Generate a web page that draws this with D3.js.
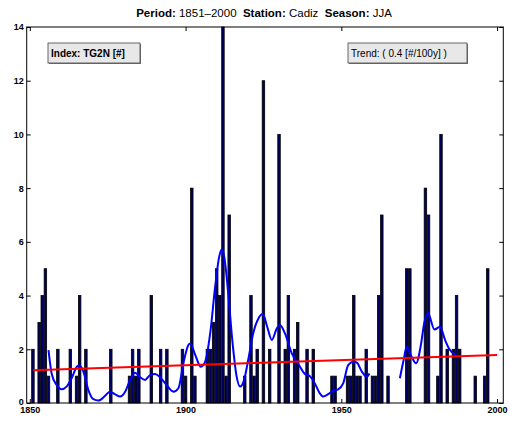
<!DOCTYPE html>
<html>
<head>
<meta charset="utf-8">
<script src="https://cdn.jsdelivr.net/npm/d3@7"></script>
<style>
  body { margin: 0; background: #fff; }
  svg { font-family: "Liberation Sans", Arial, sans-serif; }
  .axis text { font-size: 9px; font-weight: bold; fill: #000; }
  .axis line { stroke: #000; }
</style>
</head>
<body>
<svg id="chart" width="510" height="425"></svg>
<script>
// yearly counts (only years with a non-zero value)
const barYears = [1851, 1853, 1854, 1855, 1856, 1859, 1863, 1865, 1866, 1868,
  1876, 1882, 1883, 1884, 1885, 1889, 1892, 1894, 1899, 1900,
  1902, 1903, 1907, 1908, 1909, 1910, 1911, 1912, 1913, 1914,
  1919, 1921, 1922, 1923, 1925, 1927, 1930, 1932, 1933, 1935,
  1936, 1939, 1941, 1947, 1948, 1952, 1953, 1954, 1955, 1956,
  1958, 1960, 1961, 1962, 1963, 1965, 1971, 1972, 1977, 1978,
  1981, 1982, 1984, 1986, 1987, 1988, 1993, 1996, 1997];
const barValues = [2, 3, 4, 5, 1, 2, 2, 1, 4, 2,
  2, 1, 2, 1, 2, 4, 2, 2, 2, 1,
  8, 1, 2, 2, 3, 5, 4, 14, 1, 7,
  1, 4, 1, 2, 12, 2, 10, 2, 4, 2,
  3, 2, 2, 1, 1, 1, 1, 4, 1, 1,
  2, 1, 1, 4, 7, 1, 5, 5, 8, 7,
  1, 10, 2, 2, 4, 2, 1, 1, 5];

// smoothed curve, two pieces (gap in the 1960s)
const smoothYears1 = [1856.0, 1857.0, 1858.6, 1860.2, 1861.8, 1863.4, 1865.1, 1865.9, 1867.2, 1868.8,
  1870.4, 1872.0, 1874.1, 1875.7, 1877.3, 1879.0, 1880.6, 1882.2, 1883.8, 1885.4,
  1887.0, 1888.6, 1890.2, 1891.8, 1893.9, 1896.1, 1897.7, 1899.3, 1900.9, 1901.5,
  1903.1, 1904.9, 1906.3, 1907.9, 1909.5, 1910.8, 1911.6, 1912.4, 1913.7, 1915.1,
  1916.4, 1917.5, 1918.8, 1920.1, 1921.7, 1923.4, 1924.8, 1926.2, 1927.7, 1929.3,
  1930.3, 1931.9, 1934.1, 1936.2, 1938.3, 1939.9, 1941.5, 1943.1, 1944.2, 1945.8,
  1947.4, 1949.0, 1950.6, 1952.2, 1953.9, 1955.0, 1956.6, 1958.2, 1959.0];
const smoothValues1 = [1.97, 1.10, 0.67, 0.51, 0.61, 0.92, 1.35, 1.41, 1.17, 0.48,
  0.14, 0.09, 0.26, 0.42, 0.33, 0.24, 0.42, 0.86, 1.13, 0.96,
  0.86, 1.04, 1.08, 0.96, 0.67, 0.42, 0.55, 1.48, 2.16, 2.22,
  1.79, 1.35, 1.54, 2.59, 4.33, 5.45, 5.72, 5.45, 4.08, 2.22,
  0.98, 0.61, 0.86, 1.60, 2.59, 3.15, 3.31, 2.84, 2.35, 2.78,
  2.90, 2.59, 1.85, 1.45, 1.08, 1.00, 0.73, 0.36, 0.24, 0.33,
  0.46, 0.51, 0.73, 1.41, 1.54, 1.50, 1.17, 0.98, 1.10];
const smoothYears2 = [1968.8, 1970.0, 1971.0, 1972.3, 1974.0, 1975.6, 1976.6, 1977.8, 1979.9, 1981.7, 1983.3, 1984.7, 1986.6];
const smoothValues2 = [0.92, 1.60, 2.10, 1.79, 1.48, 2.20, 2.97, 3.35, 2.74, 2.84, 2.35, 2.00, 1.80];

// linear trend end points
const trendYears = [1851, 2000];
const trendValues = [1.22, 1.79];

const xTicks = [1850, 1900, 1950, 2000];
const yTicks = [0, 2, 4, 6, 8, 10, 12, 14];

const plotLeft = 26.7, plotRight = 503.3, plotTop = 27, plotBottom = 403;

const svg = d3.select("#chart");

const x = d3.scaleLinear().domain([1849, 2002]).range([plotLeft, plotRight]);
const y = d3.scaleLinear().domain([0, 14]).range([plotBottom, plotTop]);
const step = x(1) - x(0);

// bars
const bars = barYears.map((yr, i) => ({year: yr, value: barValues[i]}));
svg.append("g")
  .selectAll("rect")
  .data(bars)
  .join("rect")
  .attr("x", d => x(d.year) - step * 0.4)
  .attr("y", d => y(d.value))
  .attr("width", step * 0.8)
  .attr("height", d => y(0) - y(d.value))
  .attr("fill", "#000062")
  .attr("stroke", "#000")
  .attr("stroke-width", 0.8);

// smoothed curve
const line = d3.line()
  .x(d => x(d[0]))
  .y(d => y(d[1]))
  .curve(d3.curveMonotoneX);

[[smoothYears1, smoothValues1], [smoothYears2, smoothValues2]].forEach(([ys, vs]) => {
  svg.append("path")
    .datum(ys.map((yr, i) => [yr, vs[i]]))
    .attr("d", line)
    .attr("fill", "none")
    .attr("stroke", "#0000ff")
    .attr("stroke-width", 2);
});

// trend
svg.append("path")
  .datum(trendYears.map((yr, i) => [yr, trendValues[i]]))
  .attr("d", d3.line().x(d => x(d[0])).y(d => y(d[1])))
  .attr("stroke", "#ff0000")
  .attr("stroke-width", 2);

// axes, ticks point inward
svg.append("g")
  .attr("class", "axis")
  .attr("transform", `translate(0,${plotBottom})`)
  .call(d3.axisBottom(x).tickValues(xTicks).tickFormat(d3.format("d")).tickSizeInner(-4).tickSizeOuter(0).tickPadding(4))
  .call(g => g.select(".domain").remove());

svg.append("g")
  .attr("class", "axis")
  .attr("transform", `translate(0,${plotTop})`)
  .call(d3.axisTop(x).tickValues(xTicks).tickFormat("").tickSizeInner(-4).tickSizeOuter(0))
  .call(g => g.select(".domain").remove());

svg.append("g")
  .attr("class", "axis")
  .attr("transform", `translate(${plotLeft},0)`)
  .call(d3.axisLeft(y).tickValues(yTicks).tickSizeInner(-4).tickSizeOuter(0).tickPadding(3))
  .call(g => g.select(".domain").remove())
  .call(g => g.selectAll("text").filter(d => d === 0).attr("dy", "0.15em"));

svg.append("g")
  .attr("class", "axis")
  .attr("transform", `translate(${plotRight},0)`)
  .call(d3.axisRight(y).tickValues(yTicks).tickFormat("").tickSizeInner(-4).tickSizeOuter(0))
  .call(g => g.select(".domain").remove());

svg.append("rect")
  .attr("x", plotLeft).attr("y", plotTop)
  .attr("width", plotRight - plotLeft).attr("height", plotBottom - plotTop)
  .attr("fill", "none").attr("stroke", "#000").attr("stroke-width", 1);

// title
const title = svg.append("text")
  .attr("x", 264).attr("y", 17)
  .attr("text-anchor", "middle")
  .attr("font-size", "11.5px")
  .style("white-space", "pre");
title.append("tspan").attr("font-weight", "bold").text("Period:");
title.append("tspan").text(" 1851–2000  ");
title.append("tspan").attr("font-weight", "bold").text("Station:");
title.append("tspan").text(" Cadiz  ");
title.append("tspan").attr("font-weight", "bold").text("Season:");
title.append("tspan").text(" JJA");

// label boxes
function labelBox(bx, by, w, h, txt, bold) {
  svg.append("rect")
    .attr("x", bx + 1).attr("y", by + 1).attr("width", w).attr("height", h)
    .attr("fill", "#777");
  svg.append("rect")
    .attr("x", bx).attr("y", by).attr("width", w).attr("height", h)
    .attr("fill", "#e8e8e8").attr("stroke", "#444").attr("stroke-width", 0.8);
  svg.append("text")
    .attr("x", bx + 3).attr("y", by + h / 2 + 3.5)
    .attr("font-size", "10px")
    .attr("font-weight", bold ? "bold" : "normal")
    .text(txt);
}
labelBox(48, 43, 92, 20, "Index: TG2N [#]", true);
labelBox(348, 43, 119, 20, "Trend: ( 0.4 [#/100y] )", false);
</script>
</body>
</html>
